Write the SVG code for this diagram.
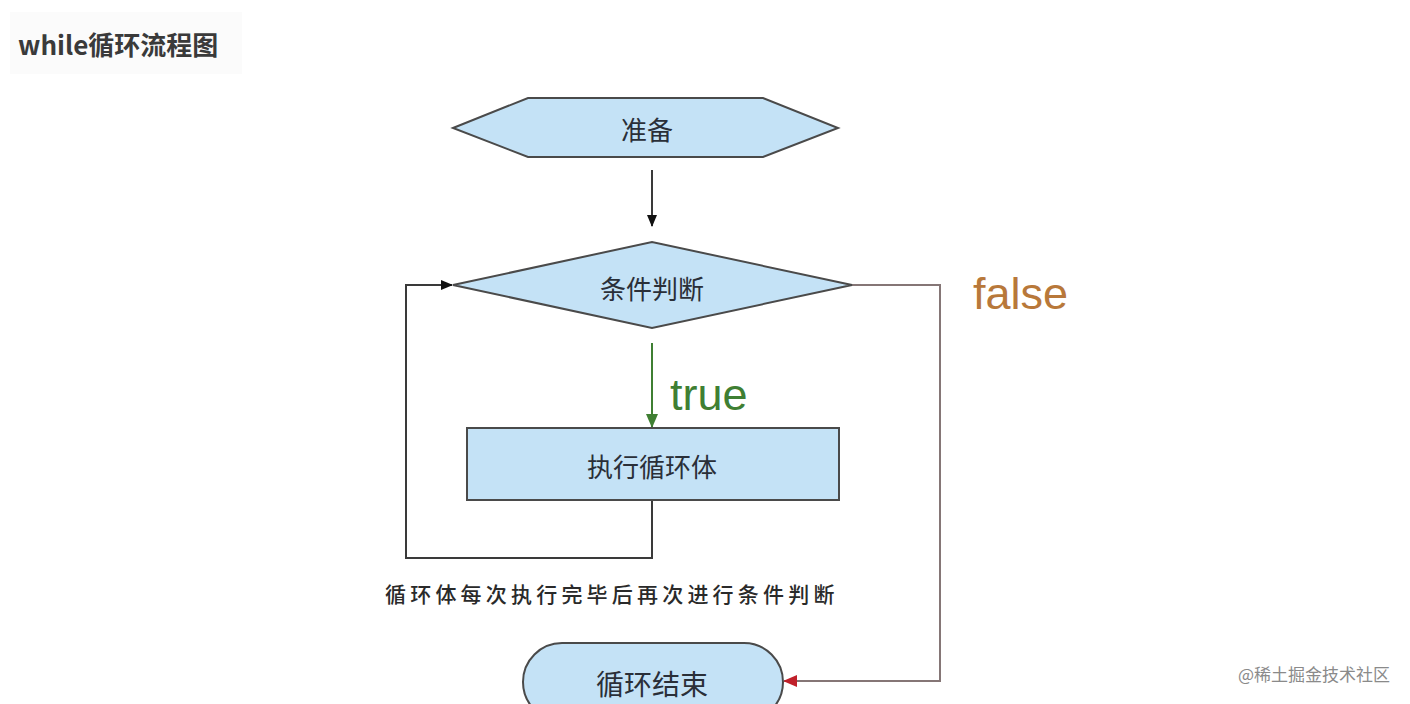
<svg xmlns="http://www.w3.org/2000/svg" width="1410" height="704" viewBox="0 0 1410 704">
<style>
.shape{fill:#c4e2f6;stroke:#4a4a4a;stroke-width:2}
.lbl{font-family:"Noto Sans CJK SC","Noto Sans",sans-serif;fill:#2a2f38;text-anchor:middle;dominant-baseline:central}
.ln{fill:none;stroke:#3a3a3a;stroke-width:2}
</style>
<defs>
<marker id="ab" markerWidth="12" markerHeight="12" refX="11" refY="6" orient="auto" markerUnits="userSpaceOnUse"><path d="M0,1 L12,6 L0,11 Z" fill="#111"/></marker>
<marker id="ag" markerWidth="14" markerHeight="14" refX="13" refY="7" orient="auto" markerUnits="userSpaceOnUse"><path d="M0,1 L14,7 L0,13 Z" fill="#3f7f33"/></marker>
<marker id="ar" markerWidth="14" markerHeight="14" refX="13" refY="7" orient="auto" markerUnits="userSpaceOnUse"><path d="M0,1 L14,7 L0,13 Z" fill="#c0202a"/></marker>
</defs>
<rect width="1410" height="704" fill="#ffffff"/>
<rect x="10" y="12" width="232" height="62" fill="#fbfbfb"/>
<text x="18" y="55" font-family="Noto Sans CJK SC,Liberation Sans,sans-serif" font-size="26" font-weight="bold" fill="#3a3a3a">while循环流程图</text>
<g id="connectors">
<line class="ln" x1="652" y1="170" x2="652" y2="226" marker-end="url(#ab)"/>
<line x1="652" y1="343" x2="652" y2="427" stroke="#3f7f33" stroke-width="2" marker-end="url(#ag)"/>
<polyline class="ln" points="652,500 652,558 406,558 406,285 452,285" marker-end="url(#ab)"/>
<polyline points="852,285 940,285 940,681 784,681" fill="none" stroke="#857676" stroke-width="2" marker-end="url(#ar)"/>
</g>
<g id="prepare">
<polygon class="shape" points="453,128 528,98 763,98 838,128 763,157 528,157"/>
<text class="lbl" x="647" y="128" font-size="26">准备</text>
</g>
<g id="condition">
<polygon class="shape" points="453,285 652,242 852,285 652,328"/>
<text class="lbl" x="652" y="287" font-size="26">条件判断</text>
</g>
<g id="body">
<rect class="shape" x="467" y="428" width="372" height="72"/>
<text class="lbl" x="652" y="465" font-size="26">执行循环体</text>
</g>
<g id="end">
<rect class="shape" x="523" y="643" width="260" height="78" rx="39" ry="39"/>
<text class="lbl" x="652" y="683" font-size="28">循环结束</text>
</g>
<g id="labels">
<text x="670" y="410" font-family="Liberation Sans,Arial,sans-serif" font-size="45" fill="#3f7f33">true</text>
<text x="973" y="309" font-family="Liberation Sans,Arial,sans-serif" font-size="45" fill="#b8783a">false</text>
<text x="385" y="593" font-family="Noto Sans CJK SC,sans-serif" font-size="21" font-weight="500" fill="#2a2a2a" letter-spacing="4.2" dominant-baseline="central">循环体每次执行完毕后再次进行条件判断</text>
<text x="1390" y="673" font-family="Noto Sans CJK SC,sans-serif" font-size="17" fill="#8a8a8a" text-anchor="end" dominant-baseline="central">@稀土掘金技术社区</text>
</g>
</svg>
